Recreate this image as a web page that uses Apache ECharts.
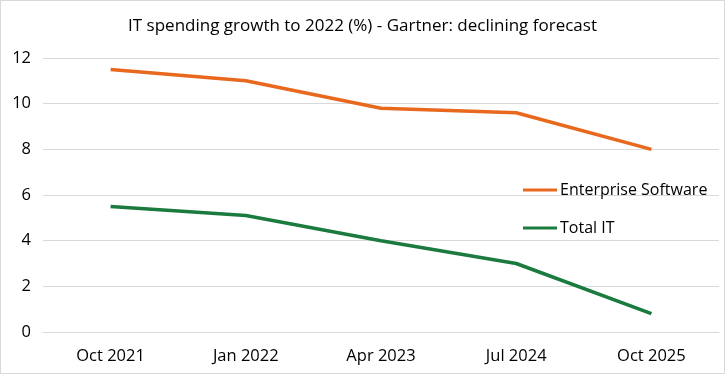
<!DOCTYPE html>
<html><head><meta charset="utf-8">
<script src="https://cdn.jsdelivr.net/npm/echarts@6/dist/echarts.min.js"></script>
<style>html,body{margin:0;padding:0;background:#fff}#c{position:absolute;left:0;top:0;width:723px;height:372px;border:1px solid #d9d9d9}</style>
</head><body><div id="c"></div>
<script>
const categories = ['Oct 2021','Jan 2022','Apr 2023','Jul 2024','Oct 2025'];
const enterpriseSoftware = [11.5, 11.0, 9.8, 9.6, 8.0];
const totalIT = [5.5, 5.1, 4.0, 3.0, 0.8];
const yTicks = [0, 2, 4, 6, 8, 10, 12];
const font = '"Open Sans", sans-serif';
const chart = echarts.init(document.getElementById('c'));
chart.setOption({
  animation: false,
  title: {text: 'IT spending growth to 2022 (%) - Gartner: declining forecast', left: 'center', top: 12,
    textStyle: {fontFamily: font, fontSize: 17, fontWeight: 'normal', color: '#000'}},
  grid: {left: 42, right: 5, top: 57, bottom: 41},
  legend: {orient: 'vertical', left: 517, top: 176, itemGap: 22, itemWidth: 34, itemHeight: 3,
    icon: 'rect', textStyle: {fontFamily: font, fontSize: 16, color: '#000', padding: [0,0,0,-2]},
    data: ['Enterprise Software', 'Total IT']},
  xAxis: {type: 'category', data: categories, boundaryGap: true,
    axisLine: {lineStyle: {color: '#d9d9d9'}}, axisTick: {show: false},
    axisLabel: {fontFamily: font, fontSize: 16.5, color: '#000', margin: 16}},
  yAxis: {type: 'value', min: yTicks[0], max: yTicks[yTicks.length-1], interval: 2,
    axisLine: {show: false}, axisTick: {show: false},
    splitLine: {lineStyle: {color: '#d9d9d9', width: 1}},
    axisLabel: {fontFamily: font, fontSize: 16.5, color: '#000', margin: 12}},
  series: [
    {name: 'Enterprise Software', type: 'line', data: enterpriseSoftware, symbol: 'none',
      lineStyle: {color: '#E8681E', width: 3.5}, itemStyle: {color: '#E8681E'}},
    {name: 'Total IT', type: 'line', data: totalIT, symbol: 'none',
      lineStyle: {color: '#1B7A3E', width: 3.5}, itemStyle: {color: '#1B7A3E'}}
  ]
});
</script></body></html>
